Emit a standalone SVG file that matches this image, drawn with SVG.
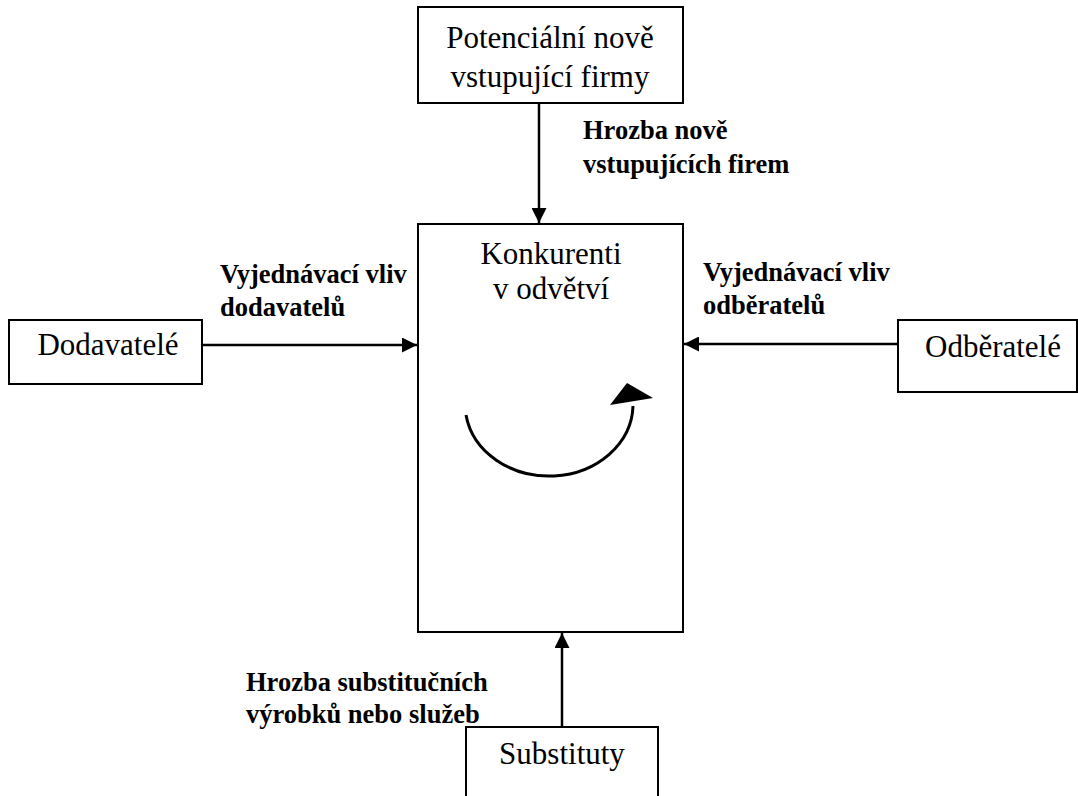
<svg xmlns="http://www.w3.org/2000/svg" width="1078" height="796" viewBox="0 0 1078 796">
<style>
.box{fill:#fff;stroke:#000;stroke-width:2}
.t{font-family:"Liberation Serif","Times New Roman",serif;font-size:31px;fill:#000;text-anchor:middle}
.b{font-family:"Liberation Serif","Times New Roman",serif;font-size:26.5px;font-weight:bold;fill:#000}
.c{stroke:#000;stroke-width:2.5;fill:none}
</style>
<defs>
<marker id="ah" viewBox="0 0 10 10" refX="10" refY="5" markerUnits="userSpaceOnUse" markerWidth="16" markerHeight="15" orient="auto">
<path d="M0,0 L10,5 L0,10 Z" fill="#000"/>
</marker>
</defs>
<rect width="1078" height="796" fill="#fff"/>
<g id="connectors">
<line class="c" x1="539" y1="103" x2="539" y2="223" marker-end="url(#ah)"/>
<line class="c" x1="202" y1="345" x2="417" y2="345" marker-end="url(#ah)"/>
<line class="c" x1="898" y1="344" x2="684" y2="344" marker-end="url(#ah)"/>
<line class="c" x1="562" y1="727" x2="562" y2="633" marker-end="url(#ah)"/>
</g>
<g id="competitors">
<rect class="box" x="418" y="224" width="265" height="408"/>
<text class="t" x="551" y="264">Konkurenti</text>
<text class="t" x="551" y="299">v odvětví</text>
<path d="M466,415 A84,72 0 0 0 633,406" stroke="#000" stroke-width="3" fill="none"/>
<polygon points="610,405 627,383 653,398" fill="#000"/>
</g>
<g id="new-entrants">
<rect class="box" x="418" y="7" width="265" height="96"/>
<text class="t" x="550" y="48">Potenciální nově</text>
<text class="t" x="550" y="87">vstupující firmy</text>
</g>
<g id="suppliers">
<rect class="box" x="9" y="320" width="193" height="64"/>
<text class="t" x="108" y="355">Dodavatelé</text>
</g>
<g id="buyers">
<rect class="box" x="898" y="320" width="179" height="72"/>
<text class="t" x="993" y="357">Odběratelé</text>
</g>
<g id="substitutes">
<rect class="box" x="466" y="727" width="192" height="80"/>
<text class="t" x="562" y="764">Substituty</text>
</g>
<g id="labels">
<text class="b" x="583" y="139">Hrozba nově</text>
<text class="b" x="583" y="173">vstupujících firem</text>
<text class="b" x="220" y="283">Vyjednávací vliv</text>
<text class="b" x="220" y="316">dodavatelů</text>
<text class="b" x="703" y="281">Vyjednávací vliv</text>
<text class="b" x="703" y="314">odběratelů</text>
<text class="b" x="246" y="691">Hrozba substitučních</text>
<text class="b" x="246" y="723">výrobků nebo služeb</text>
</g>
</svg>
